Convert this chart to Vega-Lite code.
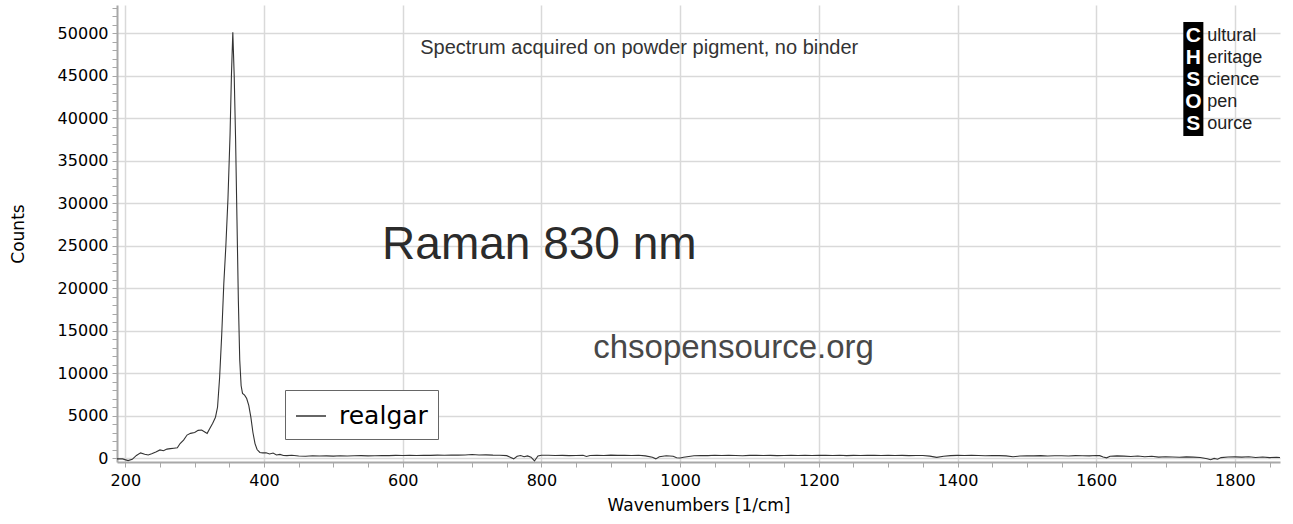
{
  "$schema": "https://vega.github.io/schema/vega-lite/v6.json",
  "width": 1163,
  "height": 457,
  "autosize": {"type": "none"},
  "padding": {"left": 117, "top": 5, "right": 13, "bottom": 62},
  "background": "white",
  "config": {
    "view": {"stroke": null},
    "font": "DejaVu Sans",
    "axis": {
      "domainColor": "#a8a8a8",
      "domainWidth": 2,
      "tickColor": "#a8a8a8",
      "tickWidth": 1,
      "tickSize": 5,
      "gridColor": "#d9d9d9",
      "gridWidth": 1.5,
      "labelFont": "DejaVu Sans",
      "labelFontSize": 16,
      "labelColor": "black",
      "titleFont": "DejaVu Sans",
      "titleFontSize": 17,
      "titleFontWeight": "normal",
      "titleColor": "black"
    }
  },
  "encoding": {
    "x": {
      "field": "wn",
      "type": "quantitative",
      "title": "Wavenumbers [1/cm]",
      "scale": {"domain": [188, 1865], "nice": false, "zero": false},
      "axis": {
        "values": [200,250,300,350,400,450,500,550,600,650,700,750,800,850,900,950,1000,1050,1100,1150,1200,1250,1300,1350,1400,1450,1500,1550,1600,1650,1700,1750,1800,1850],
        "format": "d",
        "labelExpr": "datum.value % 200 === 0 ? datum.label : ''",
        "gridOpacity": {"condition": {"test": "datum.value % 200 === 0", "value": 1}, "value": 0},
        "labelPadding": 5,
        "titlePadding": 9
      }
    },
    "y": {
      "field": "counts",
      "type": "quantitative",
      "title": "Counts",
      "scale": {"domain": [-470, 53300], "nice": false, "zero": false},
      "axis": {
        "values": [0,1000,2000,3000,4000,5000,6000,7000,8000,9000,10000,11000,12000,13000,14000,15000,16000,17000,18000,19000,20000,21000,22000,23000,24000,25000,26000,27000,28000,29000,30000,31000,32000,33000,34000,35000,36000,37000,38000,39000,40000,41000,42000,43000,44000,45000,46000,47000,48000,49000,50000,51000,52000,53000],
        "format": "d",
        "labelExpr": "datum.value % 5000 === 0 ? datum.label : ''",
        "gridOpacity": {"condition": {"test": "datum.value % 5000 === 0", "value": 1}, "value": 0},
        "labelPadding": 4,
        "titleX": -99,
        "titleBaseline": "middle"
      }
    }
  },
  "layer": [
    {
      "data": {
        "values": [
          {"wn": 188, "counts": -100}, {"wn": 196, "counts": -100}, {"wn": 204, "counts": -300},
          {"wn": 210, "counts": -150}, {"wn": 216, "counts": 300}, {"wn": 222, "counts": 600},
          {"wn": 228, "counts": 450}, {"wn": 233, "counts": 350}, {"wn": 238, "counts": 500},
          {"wn": 244, "counts": 700}, {"wn": 250, "counts": 950}, {"wn": 255, "counts": 850},
          {"wn": 260, "counts": 1050}, {"wn": 265, "counts": 1100}, {"wn": 270, "counts": 1150},
          {"wn": 275, "counts": 1200}, {"wn": 279, "counts": 1700}, {"wn": 284, "counts": 2100},
          {"wn": 289, "counts": 2700}, {"wn": 294, "counts": 2900}, {"wn": 300, "counts": 3000},
          {"wn": 305, "counts": 3250}, {"wn": 310, "counts": 3300}, {"wn": 314, "counts": 3100},
          {"wn": 318, "counts": 2900}, {"wn": 322, "counts": 3500}, {"wn": 326, "counts": 4100},
          {"wn": 330, "counts": 4800}, {"wn": 333, "counts": 6000}, {"wn": 336, "counts": 9500},
          {"wn": 339, "counts": 14500}, {"wn": 342, "counts": 20500}, {"wn": 345, "counts": 25000},
          {"wn": 348, "counts": 30500}, {"wn": 351, "counts": 38000}, {"wn": 353, "counts": 45000},
          {"wn": 355, "counts": 50100}, {"wn": 357, "counts": 45000}, {"wn": 359, "counts": 37500},
          {"wn": 361, "counts": 28000}, {"wn": 363, "counts": 18500}, {"wn": 365, "counts": 11500},
          {"wn": 367, "counts": 8500}, {"wn": 369, "counts": 7600}, {"wn": 372, "counts": 7400},
          {"wn": 375, "counts": 7000}, {"wn": 378, "counts": 6200}, {"wn": 381, "counts": 4800},
          {"wn": 384, "counts": 3000}, {"wn": 387, "counts": 1700}, {"wn": 390, "counts": 1000},
          {"wn": 394, "counts": 650}, {"wn": 398, "counts": 600}, {"wn": 403, "counts": 620},
          {"wn": 408, "counts": 480}, {"wn": 413, "counts": 580}, {"wn": 418, "counts": 350},
          {"wn": 423, "counts": 420}, {"wn": 428, "counts": 300}, {"wn": 433, "counts": 280},
          {"wn": 440, "counts": 330}, {"wn": 450, "counts": 240}, {"wn": 460, "counts": 210},
          {"wn": 470, "counts": 260}, {"wn": 480, "counts": 230}, {"wn": 490, "counts": 250},
          {"wn": 500, "counts": 220}, {"wn": 510, "counts": 270}, {"wn": 520, "counts": 240},
          {"wn": 530, "counts": 260}, {"wn": 540, "counts": 280}, {"wn": 550, "counts": 250},
          {"wn": 560, "counts": 270}, {"wn": 570, "counts": 300}, {"wn": 580, "counts": 280},
          {"wn": 590, "counts": 310}, {"wn": 600, "counts": 290}, {"wn": 610, "counts": 320},
          {"wn": 620, "counts": 300}, {"wn": 630, "counts": 330}, {"wn": 640, "counts": 310},
          {"wn": 650, "counts": 340}, {"wn": 660, "counts": 320}, {"wn": 670, "counts": 350},
          {"wn": 680, "counts": 340}, {"wn": 690, "counts": 360}, {"wn": 700, "counts": 420},
          {"wn": 710, "counts": 350}, {"wn": 720, "counts": 370}, {"wn": 730, "counts": 340},
          {"wn": 740, "counts": 330}, {"wn": 750, "counts": 280}, {"wn": 755, "counts": 100},
          {"wn": 760, "counts": -100}, {"wn": 765, "counts": 200}, {"wn": 770, "counts": 300},
          {"wn": 775, "counts": 150}, {"wn": 780, "counts": 250}, {"wn": 785, "counts": 100},
          {"wn": 790, "counts": -350}, {"wn": 795, "counts": 250}, {"wn": 800, "counts": 320},
          {"wn": 810, "counts": 330}, {"wn": 820, "counts": 290}, {"wn": 830, "counts": 310},
          {"wn": 840, "counts": 280}, {"wn": 850, "counts": 300}, {"wn": 860, "counts": 330},
          {"wn": 865, "counts": 180}, {"wn": 870, "counts": 290}, {"wn": 880, "counts": 320},
          {"wn": 890, "counts": 300}, {"wn": 900, "counts": 340}, {"wn": 910, "counts": 310},
          {"wn": 920, "counts": 330}, {"wn": 930, "counts": 300}, {"wn": 940, "counts": 320},
          {"wn": 950, "counts": 250}, {"wn": 960, "counts": 80}, {"wn": 965, "counts": -100},
          {"wn": 970, "counts": 150}, {"wn": 980, "counts": 260}, {"wn": 990, "counts": 200},
          {"wn": 995, "counts": 30}, {"wn": 1000, "counts": 0}, {"wn": 1005, "counts": 80},
          {"wn": 1010, "counts": 150}, {"wn": 1020, "counts": 260}, {"wn": 1030, "counts": 300},
          {"wn": 1040, "counts": 280}, {"wn": 1050, "counts": 320}, {"wn": 1060, "counts": 290},
          {"wn": 1070, "counts": 330}, {"wn": 1080, "counts": 300}, {"wn": 1090, "counts": 270},
          {"wn": 1100, "counts": 310}, {"wn": 1110, "counts": 330}, {"wn": 1120, "counts": 290},
          {"wn": 1130, "counts": 310}, {"wn": 1140, "counts": 280}, {"wn": 1150, "counts": 300},
          {"wn": 1160, "counts": 330}, {"wn": 1170, "counts": 300}, {"wn": 1180, "counts": 320},
          {"wn": 1190, "counts": 290}, {"wn": 1200, "counts": 310}, {"wn": 1210, "counts": 330},
          {"wn": 1220, "counts": 300}, {"wn": 1230, "counts": 320}, {"wn": 1240, "counts": 280},
          {"wn": 1250, "counts": 310}, {"wn": 1260, "counts": 300}, {"wn": 1270, "counts": 330},
          {"wn": 1280, "counts": 310}, {"wn": 1290, "counts": 290}, {"wn": 1300, "counts": 320},
          {"wn": 1310, "counts": 300}, {"wn": 1320, "counts": 310}, {"wn": 1330, "counts": 280},
          {"wn": 1340, "counts": 290}, {"wn": 1350, "counts": 300}, {"wn": 1360, "counts": 220},
          {"wn": 1370, "counts": 80}, {"wn": 1380, "counts": 200}, {"wn": 1390, "counts": 280},
          {"wn": 1400, "counts": 310}, {"wn": 1410, "counts": 290}, {"wn": 1420, "counts": 320},
          {"wn": 1430, "counts": 300}, {"wn": 1440, "counts": 270}, {"wn": 1450, "counts": 300},
          {"wn": 1460, "counts": 280}, {"wn": 1470, "counts": 250}, {"wn": 1480, "counts": 150},
          {"wn": 1490, "counts": 230}, {"wn": 1500, "counts": 270}, {"wn": 1510, "counts": 250},
          {"wn": 1520, "counts": 280}, {"wn": 1530, "counts": 240}, {"wn": 1540, "counts": 270},
          {"wn": 1550, "counts": 260}, {"wn": 1560, "counts": 240}, {"wn": 1570, "counts": 280},
          {"wn": 1580, "counts": 260}, {"wn": 1590, "counts": 250}, {"wn": 1600, "counts": 300},
          {"wn": 1605, "counts": 280}, {"wn": 1610, "counts": 120}, {"wn": 1615, "counts": 20},
          {"wn": 1620, "counts": 200}, {"wn": 1630, "counts": 250}, {"wn": 1640, "counts": 220},
          {"wn": 1650, "counts": 180}, {"wn": 1660, "counts": 230}, {"wn": 1670, "counts": 150},
          {"wn": 1680, "counts": 200}, {"wn": 1690, "counts": 100}, {"wn": 1700, "counts": 150},
          {"wn": 1710, "counts": 120}, {"wn": 1720, "counts": 90}, {"wn": 1730, "counts": 130},
          {"wn": 1740, "counts": 100}, {"wn": 1750, "counts": 60}, {"wn": 1760, "counts": -80},
          {"wn": 1765, "counts": -200}, {"wn": 1770, "counts": -50}, {"wn": 1775, "counts": -150},
          {"wn": 1780, "counts": 50}, {"wn": 1790, "counts": 120}, {"wn": 1800, "counts": 130},
          {"wn": 1810, "counts": 100}, {"wn": 1820, "counts": 140}, {"wn": 1830, "counts": 60},
          {"wn": 1840, "counts": 110}, {"wn": 1850, "counts": 50}, {"wn": 1860, "counts": 80},
          {"wn": 1865, "counts": 60}
        ]
      },
      "mark": {"type": "line", "strokeWidth": 1.1, "clip": true},
      "encoding": {
        "color": {
          "datum": "realgar",
          "type": "nominal",
          "title": null,
          "scale": {"range": ["#333333"]},
          "legend": {
            "orient": "none",
            "legendX": 168,
            "legendY": 385,
            "title": null,
            "symbolType": "stroke",
            "symbolSize": 900,
            "symbolStrokeWidth": 1.5,
            "labelFont": "DejaVu Sans",
            "labelFontSize": 25,
            "labelColor": "black",
            "labelOffset": 12,
            "strokeColor": "#666666",
            "fillColor": "white",
            "padding": 10
          }
        }
      }
    },
    {
      "data": {"values": [{"wn": 941, "counts": 48235, "label": "Spectrum acquired on powder pigment, no binder"}]},
      "mark": {"type": "text", "font": "Liberation Sans", "fontSize": 20, "color": "#333333", "align": "center", "baseline": "middle"},
      "encoding": {"text": {"field": "label"}}
    },
    {
      "data": {"values": [{"wn": 797, "counts": 25059, "label": "Raman 830 nm"}]},
      "mark": {"type": "text", "font": "Liberation Sans", "fontSize": 46, "color": "#2b2b2b", "align": "center", "baseline": "middle"},
      "encoding": {"text": {"field": "label"}}
    },
    {
      "data": {"values": [{"wn": 1077, "counts": 12941, "label": "chsopensource.org"}]},
      "mark": {"type": "text", "font": "Liberation Sans", "fontSize": 33, "color": "#484848", "align": "center", "baseline": "middle"},
      "encoding": {"text": {"field": "label"}}
    },
    {
      "data": {"values": [{"wn": 1725.6, "wn2": 1754.5, "counts": 51294, "counts2": 37882}]},
      "mark": {"type": "rect", "color": "black"},
      "encoding": {
        "x2": {"field": "wn2"},
        "y2": {"field": "counts2"}
      }
    },
    {
      "data": {
        "values": [
          {"wn": 1740, "counts": 49647, "letter": "C", "rest": "ultural"},
          {"wn": 1740, "counts": 47059, "letter": "H", "rest": "eritage"},
          {"wn": 1740, "counts": 44470, "letter": "S", "rest": "cience"},
          {"wn": 1740, "counts": 41882, "letter": "O", "rest": "pen"},
          {"wn": 1740, "counts": 39294, "letter": "S", "rest": "ource"}
        ]
      },
      "layer": [
        {
          "mark": {"type": "text", "font": "Liberation Sans", "fontWeight": "bold", "fontSize": 21, "color": "white", "align": "center", "baseline": "middle"},
          "encoding": {"text": {"field": "letter"}}
        },
        {
          "mark": {"type": "text", "font": "Liberation Sans", "fontSize": 18, "color": "#222222", "align": "left", "baseline": "middle", "dx": 14},
          "encoding": {"text": {"field": "rest"}}
        }
      ]
    }
  ]
}
